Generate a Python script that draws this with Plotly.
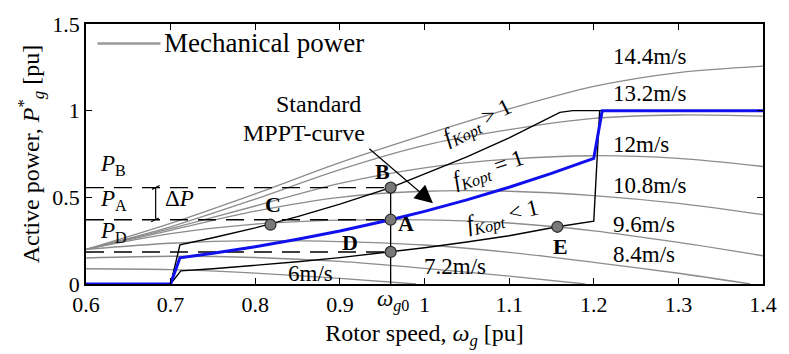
import plotly.graph_objects as go

# ---------------- data ----------------
# Mechanical power curves, one per wind speed (rotor speed [pu] -> power [pu])
wind_labels = ["6m/s", "7.2m/s", "8.4m/s", "9.6m/s", "10.8m/s", "12m/s", "13.2m/s", "14.4m/s"]
pm_omega = {
    "6m/s":    [0.60, 0.70, 0.80, 0.90, 0.99],
    "7.2m/s":  [0.60, 0.70, 0.80, 0.90, 1.00, 1.10, 1.19],
    "8.4m/s":  [0.60, 0.70, 0.80, 0.90, 1.00, 1.10, 1.20, 1.30, 1.385],
    "9.6m/s":  [0.60, 0.70, 0.80, 0.90, 1.00, 1.10, 1.20, 1.30, 1.40],
    "10.8m/s": [0.60, 0.70, 0.80, 0.90, 1.00, 1.10, 1.20, 1.30, 1.40],
    "12m/s":   [0.60, 0.70, 0.80, 0.90, 1.00, 1.10, 1.20, 1.30, 1.40],
    "13.2m/s": [0.60, 0.70, 0.80, 0.90, 1.00, 1.10, 1.20, 1.30, 1.40],
    "14.4m/s": [0.60, 0.70, 0.80, 0.90, 1.00, 1.10, 1.20, 1.30, 1.40],
}
pm_power = {
    "6m/s":    [0.088, 0.083, 0.063, 0.032, 0.0],
    "7.2m/s":  [0.150, 0.160, 0.153, 0.130, 0.090, 0.045, 0.0],
    "8.4m/s":  [0.200, 0.235, 0.250, 0.245, 0.225, 0.183, 0.125, 0.062, 0.0],
    "9.6m/s":  [0.200, 0.290, 0.345, 0.368, 0.370, 0.352, 0.307, 0.240, 0.163],
    "10.8m/s": [0.200, 0.310, 0.420, 0.500, 0.535, 0.535, 0.510, 0.465, 0.400],
    "12m/s":   [0.200, 0.320, 0.450, 0.580, 0.670, 0.720, 0.740, 0.725, 0.678],
    "13.2m/s": [0.200, 0.330, 0.490, 0.660, 0.800, 0.890, 0.955, 0.975, 0.968],
    "14.4m/s": [0.200, 0.350, 0.520, 0.700, 0.860, 1.010, 1.140, 1.220, 1.257],
}

# Power reference curves
mppt_omega = [0.60, 0.70, 0.711, 0.75, 0.80, 0.85, 0.90, 0.96, 1.00, 1.05, 1.10, 1.15, 1.20, 1.21, 1.40]
mppt_power = [0.0, 0.0, 0.151, 0.177, 0.215, 0.258, 0.306, 0.371, 0.419, 0.485, 0.558, 0.638, 0.725, 1.0, 1.0]

high_omega = [0.70, 0.711, 0.75, 0.80, 0.85, 0.90, 0.96, 1.00, 1.05, 1.10, 1.15, 1.16, 1.175, 1.40]
high_power = [0.0, 0.226, 0.267, 0.324, 0.389, 0.461, 0.556, 0.633, 0.733, 0.843, 0.963, 0.990, 1.0, 1.0]

low_omega = [0.70, 0.712, 0.75, 0.80, 0.85, 0.90, 0.96, 1.00, 1.05, 1.10, 1.157, 1.20, 1.207]
low_power = [0.0, 0.076, 0.088, 0.107, 0.128, 0.152, 0.185, 0.209, 0.242, 0.278, 0.330, 0.362, 1.0]

# Operating points
point_names = ["B", "A", "D", "C", "E"]
point_omega = [0.96, 0.96, 0.96, 0.818, 1.157]
point_power = [0.556, 0.371, 0.185, 0.342, 0.330]

omega_g0 = 0.96
x_ticks = [0.6, 0.7, 0.8, 0.9, 1.0, 1.1, 1.2, 1.3, 1.4]
x_tick_text = ["0.6", "0.7", "0.8", "0.9", "1", "1.1", "1.2", "1.3", "1.4"]
y_ticks = [0, 0.5, 1, 1.5]
y_tick_text = ["0", "0.5", "1", "1.5"]

# ---------------- styling ----------------
FONT = "Liberation Serif"
GRAY = "#8c8c8c"

fig = go.Figure()

for w in wind_labels:
    fig.add_trace(go.Scatter(
        x=pm_omega[w], y=pm_power[w], mode="lines",
        line=dict(color=GRAY, width=1.3, shape="spline", smoothing=0.8),
        showlegend=False, hoverinfo="skip"))

# dashed power levels and the omega_g0 vertical
P_B, P_A, P_D = point_power[0], point_power[1], point_power[2]
for p in (P_B, P_A, P_D):
    fig.add_trace(go.Scatter(
        x=[0.6, omega_g0], y=[p, p], mode="lines",
        line=dict(color="black", width=1.4, dash="18px,10px"),
        showlegend=False, hoverinfo="skip"))
fig.add_trace(go.Scatter(
    x=[omega_g0, omega_g0], y=[0, P_B], mode="lines",
    line=dict(color="black", width=1.3), showlegend=False, hoverinfo="skip"))

fig.add_trace(go.Scatter(x=high_omega, y=high_power, mode="lines",
                         line=dict(color="black", width=1.4), showlegend=False))
fig.add_trace(go.Scatter(x=low_omega, y=low_power, mode="lines",
                         line=dict(color="black", width=1.4), showlegend=False))
fig.add_trace(go.Scatter(x=mppt_omega, y=mppt_power, mode="lines",
                         line=dict(color="#1010ee", width=3), showlegend=False))

fig.add_trace(go.Scatter(
    x=point_omega, y=point_power, mode="markers",
    marker=dict(size=11, color="#787878", line=dict(color="#2a2a2a", width=1.2)),
    showlegend=False))

ann = []
def txt(x, y, s, size=22, xanchor="center", yanchor="middle", angle=0, **kw):
    ann.append(dict(x=x, y=y, xref="x", yref="y", text=s, showarrow=False,
                    font=dict(family=FONT, size=size, color="black"),
                    xanchor=xanchor, yanchor=yanchor, textangle=angle, **kw))

# wind speed labels
label_pos = {
    "14.4m/s": (1.220, 1.315), "13.2m/s": (1.220, 1.100), "12m/s": (1.220, 0.804),
    "10.8m/s": (1.220, 0.571), "9.6m/s": (1.220, 0.342), "8.4m/s": (1.220, 0.168),
    "7.2m/s": (0.997, 0.103),
}
for w, (lx, ly) in label_pos.items():
    txt(lx, ly, w, size=23, xanchor="left")
txt(0.865, 0.060, "6m/s", size=23)

# operating point letters
letter_pos = {"B": (0.950, 0.647), "A": (0.978, 0.348), "D": (0.912, 0.242),
              "C": (0.821, 0.459), "E": (1.161, 0.215)}
for n in point_names:
    lx, ly = letter_pos[n]
    txt(lx, ly, "<b>%s</b>" % n, size=22)

# power level labels
txt(0.632, 0.685, "<i>P</i><sub>B</sub>", size=23)
txt(0.632, 0.484, "<i>P</i><sub>A</sub>", size=23)
txt(0.632, 0.300, "<i>P</i><sub>D</sub>", size=23)
txt(0.710, 0.495, "Δ<i>P</i>", size=23)

# f_Kopt annotations
txt(1.063, 0.928, "<i>f</i><sub><i>Kopt</i></sub> > 1", size=23, angle=-27)
txt(1.076, 0.655, "<i>f</i><sub><i>Kopt</i></sub> = 1", size=23, angle=-19)
txt(1.093, 0.384, "<i>f</i><sub><i>Kopt</i></sub> < 1", size=23, angle=-14)

# Standard MPPT-curve with arrow
txt(0.927, 1.04, "Standard", size=24, xanchor="right")
txt(0.932, 0.87, "MPPT-curve", size=24, xanchor="right")
ann.append(dict(x=1.010, y=0.466, ax=0.933, ay=0.788, xref="x", yref="y",
                axref="x", ayref="y", showarrow=True, arrowhead=2,
                arrowsize=3.0, arrowwidth=1.2, arrowcolor="black", text=""))

# omega_g0 label under the axis
txt(0.941, 0.0, "<i>ω</i><sub><i>g</i>0</sub>", size=23, xanchor="left", yanchor="top")

# legend made from a line sample and its text
ann.append(dict(x=0.112, y=0.926, xref="paper", yref="paper", text="Mechanical power",
                showarrow=False, xanchor="left", yanchor="middle",
                font=dict(family=FONT, size=27, color="black")))

shapes = [
    dict(type="line", xref="paper", yref="paper", x0=0.017, x1=0.110, y0=0.925, y1=0.925,
         line=dict(color="#999999", width=2.6)),
    # ΔP bracket between P_A and P_B
    dict(type="line", xref="x", yref="y", x0=0.6823, x1=0.6823, y0=P_A, y1=P_B,
         line=dict(color="black", width=1.2)),
    dict(type="line", xref="x", yref="y", x0=0.678, x1=0.687, y0=P_B - 0.010, y1=P_B + 0.012,
         line=dict(color="black", width=1.2)),
    dict(type="line", xref="x", yref="y", x0=0.677, x1=0.686, y0=P_A - 0.012, y1=P_A + 0.010,
         line=dict(color="black", width=1.2)),
]

axis_common = dict(showline=True, linecolor="black", linewidth=1.5, mirror="ticks",
                   ticks="inside", ticklen=6, tickwidth=1.3, tickcolor="black",
                   showgrid=False, zeroline=False, ticklabeloverflow="allow",
                   tickfont=dict(family=FONT, size=22, color="black"))

fig.update_layout(
    width=789, height=354,
    margin=dict(l=86, r=13, t=18, b=60),
    paper_bgcolor="white", plot_bgcolor="white",
    showlegend=False,
    annotations=ann, shapes=shapes,
    xaxis=dict(range=[0.6, 1.4], tickvals=x_ticks, ticktext=x_tick_text,
               title=dict(text="Rotor speed, <i>ω</i><sub><i>g</i></sub> [pu]",
                          font=dict(family=FONT, size=24, color="black"), standoff=8),
               **axis_common),
    yaxis=dict(range=[0, 1.5], tickvals=y_ticks, ticktext=y_tick_text,
               title=dict(text="Active power, <i>P</i><sup>*</sup><sub><i>g</i></sub> [pu]",
                          font=dict(family=FONT, size=24, color="black"), standoff=6),
               **axis_common),
)

fig.write_html("out.html")
